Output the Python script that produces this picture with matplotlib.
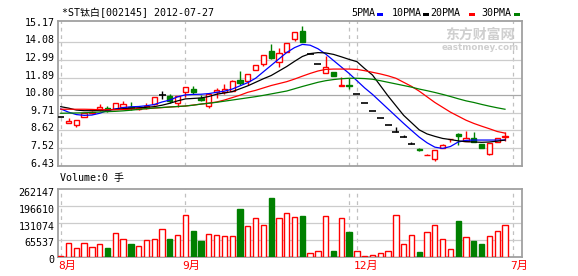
import matplotlib
matplotlib.use('Agg')
import matplotlib.pyplot as plt
import matplotlib.transforms as mtransforms
from matplotlib.patches import Rectangle

plt.rcParams['font.family'] = ['DejaVu Sans Mono', 'Noto Sans CJK SC']

# Data (one entry per trading bar).
title_text = '*ST钛白[002145] 2012-07-27'

open_ = [9.43, 9.06, 8.93, 9.47, 9.70, 9.94, 9.99, 9.95, 10.05, 10.09,
         9.95, 9.99, 10.24, 10.80, 10.75, 10.31, 11.02, 11.19, 10.65, 10.10,
         11.00, 11.02, 11.08, 11.74, 11.70, 12.34, 12.75, 13.54, 12.88, 13.50,
         14.28, 14.78, 13.36, 12.74, 12.16, 12.26, 11.40, 11.45, 10.86, 10.30,
         9.84, 9.37, 8.95, 8.54, 8.19, 7.78, 7.45, 7.09, 6.83, 7.51,
         8.06, 8.40, 7.98, 8.13, 7.76, 7.16, 7.92, 8.20]
high = [9.43, 9.41, 9.26, 9.72, 9.85, 10.24, 10.11, 10.33, 10.46, 10.40,
        10.05, 10.30, 10.67, 11.08, 10.87, 10.77, 11.33, 11.35, 10.84, 10.90,
        11.23, 11.48, 11.75, 12.30, 12.10, 12.65, 13.27, 13.96, 13.75, 14.02,
        14.70, 15.09, 13.36, 12.74, 13.25, 12.26, 11.93, 11.85, 10.86, 10.30,
        9.84, 9.37, 8.95, 8.85, 8.33, 7.90, 7.53, 7.13, 7.40, 7.75,
        8.08, 8.43, 8.58, 8.50, 7.76, 7.82, 8.17, 8.55]
low = [9.43, 9.06, 8.85, 9.43, 9.65, 9.82, 9.78, 9.95, 9.94, 9.88,
       9.90, 9.95, 10.19, 10.55, 10.30, 10.05, 10.71, 10.86, 10.43, 9.98,
       10.61, 10.88, 11.05, 11.43, 11.43, 12.34, 12.63, 13.03, 12.57, 13.50,
       14.16, 14.08, 13.36, 12.74, 12.16, 12.01, 11.40, 11.19, 10.86, 10.30,
       9.84, 9.37, 8.95, 8.54, 8.19, 7.78, 7.34, 7.09, 6.74, 7.51,
       7.88, 7.72, 7.98, 7.92, 7.51, 7.09, 7.92, 7.95]
close = [9.43, 9.20, 9.26, 9.72, 9.76, 10.04, 9.86, 10.30, 10.24, 9.99,
         10.00, 10.10, 10.67, 10.80, 10.44, 10.77, 11.33, 11.02, 10.50, 10.90,
         11.10, 11.17, 11.68, 11.56, 12.10, 12.65, 13.27, 13.13, 13.40, 14.02,
         14.70, 14.08, 13.36, 12.74, 12.57, 12.01, 11.42, 11.40, 10.86, 10.30,
         9.84, 9.37, 8.95, 8.54, 8.19, 7.78, 7.43, 7.11, 7.40, 7.71,
         8.08, 8.30, 8.17, 7.92, 7.51, 7.82, 8.17, 8.25]
volume = [2000, 52700, 33300, 52700, 37200, 48900, 34500, 91500, 68200, 48900,
          41100, 65500, 68200, 107000, 68200, 83700, 161300, 100400, 61600, 87600,
          83700, 79900, 79900, 185700, 118600, 149600, 122500, 228300, 149600, 169000,
          153500, 158500, 14000, 21700, 157400, 22900, 149600, 96500, 21700, 3000,
          6000, 14000, 21700, 161300, 48900, 83700, 19000, 95300, 122500, 68200,
          29400, 139400, 76000, 61600, 50100, 79900, 100400, 122500]

ma5 = [9.95, 9.75, 9.60, 9.55, 9.57, 9.68, 9.85, 9.95, 10.03, 10.08,
       10.10, 10.15, 10.22, 10.38, 10.50, 10.70, 10.82, 10.85, 10.86, 10.90,
       10.98, 11.05, 11.18, 11.38, 11.58, 11.85, 12.25, 12.65, 13.05, 13.45,
       13.75, 13.95, 13.90, 13.68, 13.35, 12.95, 12.55, 12.15, 11.70, 11.25,
       10.85, 10.40, 9.95, 9.50, 9.05, 8.62, 8.20, 7.85, 7.58, 7.50,
       7.62, 7.90, 8.00, 8.02, 8.02, 8.02, 8.02, 8.02]
ma10 = [10.09, 10.00, 9.88, 9.84, 9.84, 9.85, 9.88, 9.92, 9.96, 9.99,
        10.02, 10.05, 10.09, 10.18, 10.30, 10.45, 10.57, 10.60, 10.63, 10.72,
        10.86, 10.94, 11.02, 11.20, 11.38, 11.60, 11.82, 12.02, 12.30, 12.58,
        12.90, 13.20, 13.38, 13.44, 13.42, 13.33, 13.18, 13.02, 12.88, 12.45,
        12.05, 11.40, 10.75, 10.15, 9.55, 9.10, 8.65, 8.40, 8.25, 8.12,
        8.05, 7.97, 7.92, 7.90, 7.88, 7.90, 7.95, 8.02]
ma20 = [9.93, 9.93, 9.93, 9.93, 9.92, 9.90, 9.90, 9.90, 9.91, 9.93,
        9.95, 9.97, 10.00, 10.03, 10.07, 10.10, 10.13, 10.19, 10.25, 10.31,
        10.38, 10.50, 10.65, 10.80, 10.98, 11.10, 11.25, 11.40, 11.52, 11.64,
        11.80, 11.98, 12.15, 12.30, 12.40, 12.42, 12.42, 12.42, 12.40, 12.32,
        12.22, 12.12, 12.00, 11.85, 11.60, 11.35, 11.05, 10.70, 10.35, 10.05,
        9.75, 9.50, 9.25, 9.05, 8.88, 8.72, 8.55, 8.45]
ma30 = [9.68, 9.69, 9.70, 9.71, 9.73, 9.76, 9.78, 9.80, 9.83, 9.87,
        9.92, 9.97, 10.01, 10.04, 10.07, 10.10, 10.13, 10.18, 10.25, 10.30,
        10.36, 10.43, 10.50, 10.57, 10.64, 10.71, 10.79, 10.88, 10.97, 11.06,
        11.20, 11.34, 11.47, 11.60, 11.70, 11.77, 11.82, 11.85, 11.85, 11.83,
        11.79, 11.70, 11.60, 11.50, 11.40, 11.30, 11.18, 11.08, 10.97, 10.85,
        10.72, 10.58, 10.45, 10.35, 10.23, 10.12, 10.02, 9.93]

ma_names = ['5PMA', '10PMA', '20PMA', '30PMA']
ma_colors = ['#0000ff', '#000000', '#ff0000', '#008000']

price_ticks = [6.43, 7.52, 8.62, 9.71, 10.80, 11.89, 12.99, 14.08, 15.17]
volume_ticks = [0, 65537, 131074, 196610, 262147]
month_pos = [0, 16, 38, 58]
month_labels = ['8月', '9月', '12月', '7月']
date_lines = [0, 16, 37, 38, 58]

RED = '#ff0000'
GREEN = '#008000'
GRID = '#cccccc'
FRAME = '#a0a0a0'
W, H = 578, 276

fig = plt.figure(figsize=(W / 100, H / 100), dpi=100)
ax = fig.add_axes([58 / W, 1 - 165.7 / H, 464.3 / W, 144.7 / H])
axv = fig.add_axes([58 / W, 1 - 256.9 / H, 464.3 / W, 67.6 / H])

for a in (ax, axv):
    a.set_xlim(-0.35, 59.22)
    a.set_xticks([])
    for s in a.spines.values():
        s.set_color(FRAME)
        s.set_linewidth(1.3)
    a.tick_params(axis='y', length=0, labelsize=7.2, pad=2.5)
    for d in date_lines:
        a.axvline(d, color='#c0c0c0', lw=0.9, ls=(0, (3, 3)), zorder=1)

# Price panel.
ax.set_ylim(6.43, 15.40)
ax.set_yticks(price_ticks)
ax.set_yticklabels(['%.2f' % t for t in price_ticks])
for t in price_ticks[1:-1]:
    ax.axhline(t, color='#a8a8a8' if t == 10.80 else GRID, lw=0.9, zorder=1)

bw = 0.68
for i in range(len(close)):
    o, h, l, c = open_[i], high[i], low[i], close[i]
    if c > o:
        col = RED
    elif c < o:
        col = GREEN
    else:
        col = '#000000'
    ax.vlines(i, l, h, color=col, lw=1, zorder=3)
    if c == o:
        ax.hlines(o, i - 0.45, i + 0.45, color=col, lw=1.2, zorder=4)
    else:
        ax.bar(i, abs(c - o), bottom=min(o, c), width=bw,
               facecolor='white' if c > o else GREEN, edgecolor=col,
               linewidth=1, zorder=4)

for vals, col in zip([ma5, ma10, ma20, ma30], ma_colors):
    ax.plot(range(len(vals)), vals, color=col, lw=0.9, zorder=5)

# Volume panel.
axv.set_ylim(0, 262147)
axv.set_yticks(volume_ticks)
axv.set_yticklabels([str(t) for t in volume_ticks])
for t in volume_ticks[1:-1]:
    axv.axhline(t, color=GRID, lw=0.9, zorder=1)
for i, v in enumerate(volume):
    up = close[i] >= open_[i]
    axv.bar(i, v, width=bw, facecolor='white' if up else GREEN,
            edgecolor=RED if up else GREEN, linewidth=1, zorder=3)

# Shift tick labels a little, as in the original.
up_shift = mtransforms.ScaledTranslation(0, 0.03, fig.dpi_scale_trans)
down_shift = mtransforms.ScaledTranslation(0, -0.025, fig.dpi_scale_trans)
for tick in ax.yaxis.get_major_ticks():
    tick.label1.set_transform(tick.label1.get_transform() + up_shift)
for tick in axv.yaxis.get_major_ticks():
    tick.label1.set_transform(tick.label1.get_transform() + down_shift)

# Month labels under the volume panel.
for p, lab in zip(month_pos, month_labels):
    axv.text(p - 0.35, -0.06, lab, transform=axv.get_xaxis_transform(),
             ha='left', va='top', color=RED, fontsize=8)

# Texts.
fig.text(62 / W, 1 - 13 / H, title_text, fontsize=7.2, va='center', ha='left')
fig.text(60 / W, 1 - 177.5 / H, 'Volume:0 手', fontsize=7.2, va='center', ha='left')

leg_x = [351.7, 391.7, 430.5, 481.7]
mark_x = [377, 423, 469, 514]
for name, col, lx, mx in zip(ma_names, ma_colors, leg_x, mark_x):
    fig.text(lx / W, 1 - 13 / H, name, fontsize=7.2, va='center', ha='left')
    fig.patches.append(Rectangle((mx / W, 1 - 15.5 / H), 5.5 / W, 2.5 / H,
                                 transform=fig.transFigure, facecolor=col,
                                 edgecolor='none'))

# Watermark.
fig.text(480 / W, 1 - 35 / H, '东方财富网', fontsize=10, color='#cfcfcf',
         fontweight='bold', ha='center', va='center', family='Noto Sans CJK SC')
fig.text(480 / W, 1 - 47.5 / H, 'eastmoney.com', fontsize=6.3, color='#cfcfcf',
         fontweight='bold', ha='center', va='center', family='DejaVu Sans')

fig.savefig('out.png', dpi=100)
